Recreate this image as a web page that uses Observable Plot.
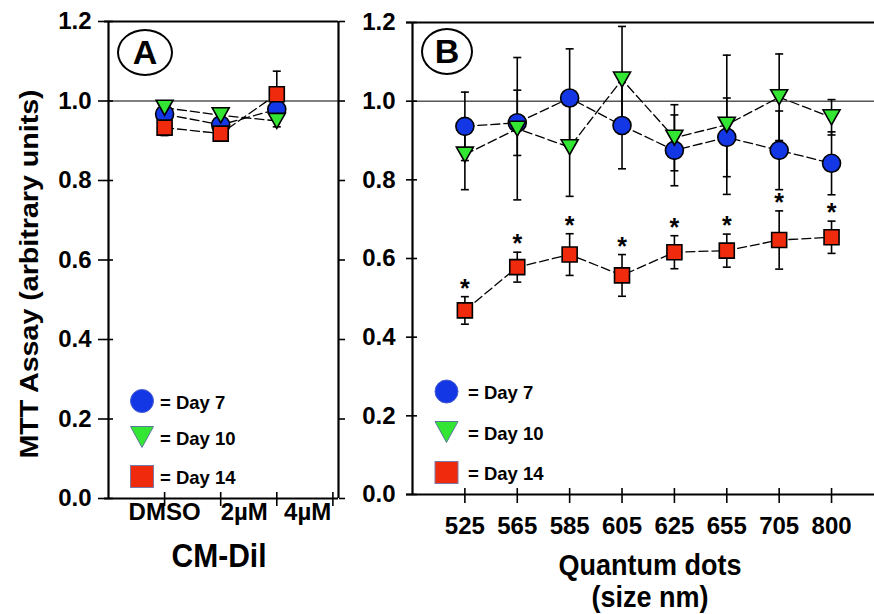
<!DOCTYPE html>
<html><head><meta charset="utf-8">
<script src="https://cdn.jsdelivr.net/npm/d3@7"></script>
<script src="https://cdn.jsdelivr.net/npm/@observablehq/plot@0.6"></script>
<style>
body{margin:0;background:#fff;}
#wrap{position:relative;width:874px;height:614px;overflow:hidden;font-family:"Liberation Sans",Arial,sans-serif;font-weight:bold;color:#000;}
#wrap svg{position:absolute;top:0;overflow:visible;}
.t{position:absolute;white-space:nowrap;transform:translate(-50%,-50%);line-height:1;}
.ell{position:absolute;border:2.5px solid #000;border-radius:50%;box-sizing:border-box;display:flex;align-items:center;justify-content:center;font-size:34px;}
</style></head><body><div id="wrap"></div>
<script>
// ---------- data ----------
const seriesNames = ["Day 7", "Day 10", "Day 14"];
const seriesColors = ["#1437e6", "#33e633", "#f02a0c"];

// Panel A: CM-DiI
const cmCategories = ["DMSO", "2µM", "4µM"];
const cmDay7 = [0.967, 0.940, 0.979];
const cmDay7Err = [0.02, 0.02, 0.02];
const cmDay10 = [0.983, 0.964, 0.950];
const cmDay10Err = [0.015, 0.015, 0.015];
const cmDay14 = [0.933, 0.918, 1.017];
const cmDay14Err = [0.02, 0.015, 0.058];

// Panel B: Quantum dots
const qdSizes = ["525", "565", "585", "605", "625", "655", "705", "800"];
const qdDay7 = [0.936, 0.945, 1.008, 0.938, 0.875, 0.908, 0.875, 0.842];
const qdDay7Err = [0.087, 0.083, 0.125, 0.110, 0.090, 0.100, 0.100, 0.080];
const qdDay10 = [0.864, 0.930, 0.883, 1.055, 0.907, 0.940, 1.010, 0.959];
const qdDay10Err = [0.089, 0.181, 0.125, 0.135, 0.084, 0.177, 0.110, 0.045];
const qdDay14 = [0.468, 0.578, 0.610, 0.557, 0.616, 0.620, 0.647, 0.654];
const qdDay14Err = [0.035, 0.038, 0.053, 0.053, 0.042, 0.042, 0.074, 0.041];
const qdDay14Significant = [true, true, true, true, true, true, true, true];

const yTicks = [0, 0.2, 0.4, 0.6, 0.8, 1.0, 1.2];
const yDomain = [0, 1.2];
const referenceLevel = [1.0];

// ---------- helpers ----------
const rows = (vals, errs, series, sig) => vals.map((v, i) => ({pos: i + 1, v, e: errs[i], series, sig: sig ? sig[i] : false}));

const circleSym = {draw(c) { const r = 9; c.moveTo(r, 0); c.arc(0, 0, r, 0, 2 * Math.PI); c.closePath(); }};
const triSym = {draw(c) { c.moveTo(-8.5, -7.5); c.lineTo(8.5, -7.5); c.lineTo(0, 7.5); c.closePath(); }};
const sqSym = {draw(c) { c.rect(-7.5, -7.5, 15, 15); }};
const capSym = {draw(c) { c.moveTo(-4, 0); c.lineTo(4, 0); }};
const syms = [circleSym, triSym, sqSym];

function seriesMarks(groups) {
  const all = groups.flat();
  const marks = [];
  groups.forEach(g => marks.push(Plot.line(g, {x: "pos", y: "v", stroke: "#000", strokeWidth: 1.3, strokeDasharray: "9,4"})));
  marks.push(Plot.ruleX(all, {x: "pos", y1: d => d.v - d.e, y2: d => d.v + d.e, stroke: "#000", strokeWidth: 1.6}));
  marks.push(Plot.dot(all, {x: "pos", y: d => d.v - d.e, symbol: capSym, stroke: "#000", strokeWidth: 1.6}));
  marks.push(Plot.dot(all, {x: "pos", y: d => d.v + d.e, symbol: capSym, stroke: "#000", strokeWidth: 1.6}));
  groups.forEach((g, i) => marks.push(Plot.dot(g, {x: "pos", y: "v", symbol: syms[i], fill: seriesColors[i], stroke: "#000", strokeWidth: 1.6})));
  return marks;
}

const baseStyle = {fontFamily: "Liberation Sans, Arial, sans-serif", fontWeight: "bold", fontSize: "24px", color: "#000", background: "transparent", overflow: "visible"};

// ---------- Panel A ----------
const aGroups = [rows(cmDay7, cmDay7Err, seriesNames[0]), rows(cmDay10, cmDay10Err, seriesNames[1]), rows(cmDay14, cmDay14Err, seriesNames[2])];
const aXDomain = [0, 4.1];
const aLabelShift = [0, 0.42, 0.55];
const plotA = Plot.plot({
  width: 350, height: 614, marginLeft: 108, marginRight: 12, marginTop: 21, marginBottom: 116,
  style: baseStyle,
  x: {domain: aXDomain, axis: null},
  y: {domain: yDomain, axis: null},
  marks: [
    Plot.ruleY(referenceLevel, {stroke: "#000", strokeWidth: 1}),
    Plot.ruleY(yDomain, {stroke: "#000", strokeWidth: 2.2, insetLeft: -4}),
    Plot.ruleX(aXDomain, {stroke: "#000", strokeWidth: 2.2}),
    Plot.axisY({ticks: yTicks, tickSize: 10, tickPadding: 7, tickFormat: d3.format(".1f"), label: null, strokeWidth: 1.6, fontSize: 24}),
    Plot.axisY({ticks: yTicks, tickSize: -5, tickFormat: () => "", label: null, strokeWidth: 1.6}),
    Plot.axisY({anchor: "right", ticks: yTicks, tickSize: 6, tickFormat: () => "", label: null, strokeWidth: 1.6}),
    Plot.axisX({ticks: [1, 2, 3, 4], tickSize: 8, tickFormat: () => "", label: null, strokeWidth: 1.6}),
    Plot.axisX({ticks: [1, 2, 3, 4], tickSize: -6, tickFormat: () => "", label: null, strokeWidth: 1.6}),
    Plot.text(cmCategories, {x: (d, i) => i + 1 + aLabelShift[i], frameAnchor: "bottom", dy: 21, text: d => d, fontSize: 24, fontWeight: "bold"}),
    ...seriesMarks(aGroups)
  ]
});
plotA.style.left = "0px";

// ---------- Panel B ----------
const bGroups = [rows(qdDay7, qdDay7Err, seriesNames[0]), rows(qdDay10, qdDay10Err, seriesNames[1]), rows(qdDay14, qdDay14Err, seriesNames[2], qdDay14Significant)];
const bXDomain = [0, 8.82];
const plotB = Plot.plot({
  width: 524, height: 614, marginLeft: 62, marginRight: 0, marginTop: 22, marginBottom: 120,
  style: baseStyle,
  x: {domain: bXDomain, axis: null},
  y: {domain: yDomain, axis: null},
  marks: [
    Plot.ruleY(referenceLevel, {stroke: "#000", strokeWidth: 1}),
    Plot.ruleY(yDomain, {stroke: "#000", strokeWidth: 2.2, insetLeft: -6}),
    Plot.ruleX([bXDomain[0]], {stroke: "#000", strokeWidth: 2.2}),
    Plot.axisY({ticks: yTicks, tickSize: 6, tickPadding: 11, tickFormat: d3.format(".1f"), label: null, strokeWidth: 1.6, fontSize: 24}),
    Plot.axisY({ticks: yTicks, tickSize: -5, tickFormat: () => "", label: null, strokeWidth: 1.6}),
    Plot.axisX({ticks: qdSizes.map((d, i) => i + 1), tickSize: 9, tickFormat: () => "", label: null, strokeWidth: 1.6}),
    Plot.axisX({ticks: qdSizes.map((d, i) => i + 1), tickSize: -6, tickFormat: () => "", label: null, strokeWidth: 1.6}),
    Plot.text(qdSizes, {x: (d, i) => i + 1, frameAnchor: "bottom", dy: 39, text: d => d, fontSize: 24, fontWeight: "bold"}),
    ...seriesMarks(bGroups),
    Plot.text(bGroups[2].filter(d => d.sig), {x: "pos", y: d => d.v + d.e, text: () => "*", dy: -8, fontSize: 25, fontWeight: "bold"})
  ]
});
plotB.style.left = "350px";

const wrap = document.getElementById("wrap");
wrap.appendChild(plotA);
wrap.appendChild(plotB);

// ---------- titles ----------
function addText(txt, x, y, size, extra) {
  const d = document.createElement("div");
  d.className = "t";
  d.textContent = txt;
  d.style.left = x + "px"; d.style.top = y + "px"; d.style.fontSize = size + "px";
  d.style.transform = "translate(-50%,-50%) " + (extra || "");
  wrap.appendChild(d);
}
addText("MTT Assay (arbitrary units)", 29, 274, 26, "rotate(-90deg) scale(1.1,1)");
addText("CM-Dil", 219, 556, 30, "scale(1,1.1)");
addText("Quantum dots", 650, 566, 27, "scale(1,1.1)");
addText("(size nm)", 650, 598, 27, "scale(1,1.1)");

function addEllipse(letter, cx, cy, w, h) {
  const d = document.createElement("div");
  d.className = "ell";
  d.textContent = letter;
  d.style.left = (cx - w / 2) + "px"; d.style.top = (cy - h / 2) + "px";
  d.style.width = w + "px"; d.style.height = h + "px";
  wrap.appendChild(d);
}
addEllipse("A", 145, 52, 56, 47);
addEllipse("B", 447, 51, 52, 47);

// ---------- legends ----------
const NS = "http://www.w3.org/2000/svg";
const ov = document.createElementNS(NS, "svg");
ov.setAttribute("width", 874); ov.setAttribute("height", 614);
ov.style.left = "0px"; ov.style.pointerEvents = "none";
wrap.appendChild(ov);
const legendShapes = [
  (x, y) => `<circle cx="${x}" cy="${y}" r="11.5" fill="${seriesColors[0]}" stroke="#4a5fd0" stroke-width="1"/>`,
  (x, y) => `<path d="M${x - 11.5},${y - 10.5}H${x + 11.5}L${x},${y + 10.5}Z" fill="${seriesColors[1]}" stroke="#5a7a9a" stroke-width="1"/>`,
  (x, y) => `<rect x="${x - 11.5}" y="${y - 11}" width="23" height="22" fill="${seriesColors[2]}" stroke="#7a7aa8" stroke-width="1"/>`
];
function legend(x, ys, tx) {
  let s = "";
  seriesNames.forEach((n, i) => {
    s += legendShapes[i](x, ys[i]);
    s += `<text x="${tx}" y="${ys[i] + 3}" dominant-baseline="middle" font-family="Liberation Sans, Arial, sans-serif" font-weight="bold" font-size="18.5">= ${n}</text>`;
  });
  ov.insertAdjacentHTML("beforeend", s);
}
legend(142, [401, 437, 476.5], 160);
legend(446.5, [391.5, 432, 472.5], 468);
</script></body></html>
